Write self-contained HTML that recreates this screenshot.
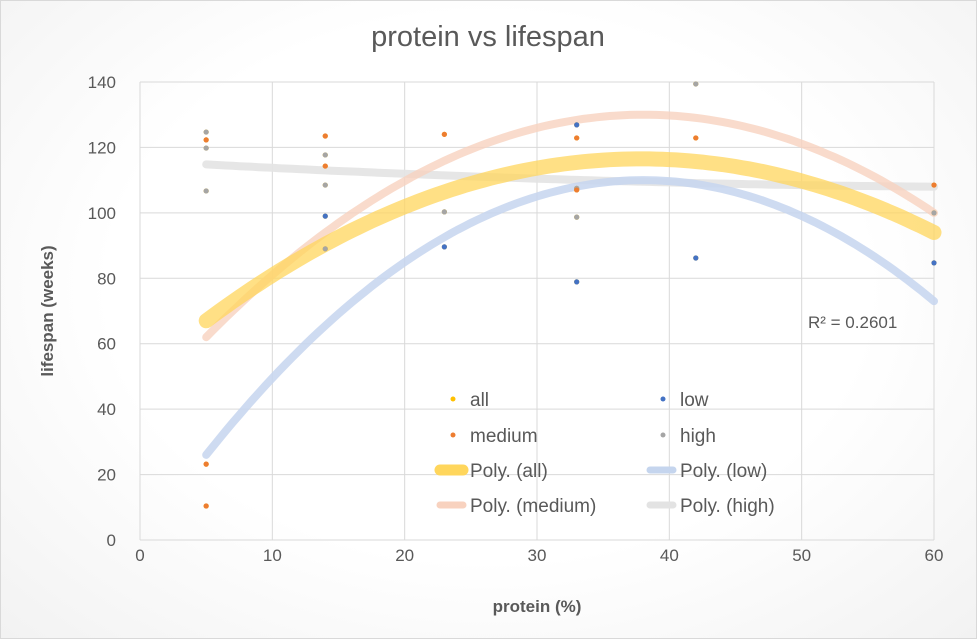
<!DOCTYPE html>
<html><head><meta charset="utf-8"><style>
body{margin:0;background:#fff;}
#wrap{width:977px;height:639px;position:relative;overflow:hidden;background:radial-gradient(ellipse at 50% 45%,#ffffff 55%,#f2f2f2 100%);}
svg text{font-family:"Liberation Sans",sans-serif;fill:#595959;}
</style></head><body>
<div id="wrap">
<svg id="chart" width="977" height="639"></svg>
</div>
<script>
const xTicks=[0,10,20,30,40,50,60];
const yTicks=[0,20,40,60,80,100,120,140];
const lowX=[14,23,33,33,42,60];
const lowY=[99,89.6,126.9,78.9,86.2,84.7];
const medX=[5,5,5,14,14,23,33,33,42,60];
const medY=[122.3,23.2,10.4,123.5,114.3,124,122.9,107,122.9,108.5];
const highX=[5,5,5,14,14,14,23,33,33,42,60];
const highY=[124.7,119.8,106.7,117.7,108.5,89,100.3,107.5,98.7,139.4,100];
// trendline values at x = 5, 38, 60
const trendX=[5,38,60];
const trendAll=[67,116.5,94];
const trendLow=[26,110,73];
const trendMed=[62,130,100];
const trendHigh=[114.8,109.5,108];
const r2Label="R² = 0.2601";

const NS="http://www.w3.org/2000/svg";
const svg=document.getElementById('chart');
const X0=140,X1=934,Y0=540,Y1=82;
const sx=v=>X0+(v-0)/(60-0)*(X1-X0);
const sy=v=>Y0-(v-0)/(140-0)*(Y0-Y1);
function mk(t,a){const e=document.createElementNS(NS,t);for(const k in a)e.setAttribute(k,a[k]);svg.appendChild(e);return e;}

let b=mk('rect',{x:0.5,y:0.5,width:976,height:638,fill:'none',stroke:'#d9d9d9'});


let t=mk('text',{x:488,y:46,'font-size':29,'text-anchor':'middle'});t.textContent='protein vs lifespan';



xTicks.forEach(v=>{
 const l=mk('line',{x1:sx(v),x2:sx(v),y1:Y1,y2:Y0,stroke:'#d9d9d9','stroke-width':1});
 
 
 const tx=mk('text',{x:sx(v),y:Y0+21,'font-size':17,'text-anchor':'middle'});tx.textContent=v;
 
 
});
yTicks.forEach(v=>{
 const l=mk('line',{x1:X0,x2:X1,y1:sy(v),y2:sy(v),stroke:'#d9d9d9','stroke-width':1});
 
 
 const tx=mk('text',{x:X0-24,y:sy(v)+6,'font-size':17,'text-anchor':'end'});tx.textContent=v;
 
 
});
let xt=mk('text',{x:537,y:612,'font-size':17,'font-weight':'bold','text-anchor':'middle'});xt.textContent='protein (%)';


let yt=mk('text',{x:0,y:0,'font-size':17,'font-weight':'bold','text-anchor':'middle',transform:'translate(53,311) rotate(-90)'});yt.textContent='lifespan (weeks)';



function quad(xs,ys){
 return x=>{let s=0;for(let i=0;i<3;i++){let p=ys[i];for(let j=0;j<3;j++)if(j!==i)p*=(x-xs[j])/(xs[i]-xs[j]);s+=p;}return s;};
}
function trend(ys,color,w,op,name){
 const f=quad(trendX,ys);let d='';
 for(let x=5;x<=60.001;x+=0.5){d+=(d?'L':'M')+sx(x).toFixed(1)+','+sy(f(x)).toFixed(1);}
 const p=mk('path',{d:d,fill:'none',stroke:color,'stroke-width':w,'stroke-linecap':'round','stroke-opacity':op});
 
 
}
const allX=lowX.concat(medX,highX),allY=lowY.concat(medY,highY);
trend(trendHigh,'#e3e3e3',8,0.9,'trendline-high');
trend(trendLow,'#c5d5ee',8,0.85,'trendline-low');
trend(trendMed,'#f8d2bf',8,0.8,'trendline-medium');
trend(trendAll,'#ffd65c',15,0.75,'trendline-all');

function pts(xs,ys,color,name){xs.forEach((x,i)=>{
 const c=mk('circle',{cx:sx(x),cy:sy(ys[i]),r:2.6,fill:color});
 
 
});}
pts(allX,allY,'#ffc000','point-all');
pts(highX,highY,'#a5a5a5','point-high');
pts(medX,medY,'#ed7d31','point-medium');
pts(lowX,lowY,'#4472c4','point-low');

let r2=mk('text',{x:808,y:328,'font-size':17});r2.textContent=r2Label;



const legend=[
 ['all','dot','#ffc000',0,399],['low','dot','#4472c4',1,399],
 ['medium','dot','#ed7d31',0,435],['high','dot','#a5a5a5',1,435],
 ['Poly. (all)','line','#ffd65c',0,470],['Poly. (low)','line','#c5d5ee',1,470],
 ['Poly. (medium)','line','#f8d2bf',0,505],['Poly. (high)','line','#e3e3e3',1,505]];
legend.forEach(L=>{
 const lx=L[3]?650:440, ly=L[4];
 if(L[1]==='dot'){const c=mk('circle',{cx:lx+13,cy:ly,r:2.5,fill:L[2]});
  
  }
 else{const l=mk('line',{x1:lx,x2:lx+23,y1:ly,y2:ly,stroke:L[2],'stroke-width':L[0]==='Poly. (all)'?11:7,'stroke-linecap':'round'});
  
  }
 const tx=mk('text',{x:lx+30,y:ly+7,'font-size':19});tx.textContent=L[0];
 
 
});
</script>
</body></html>
